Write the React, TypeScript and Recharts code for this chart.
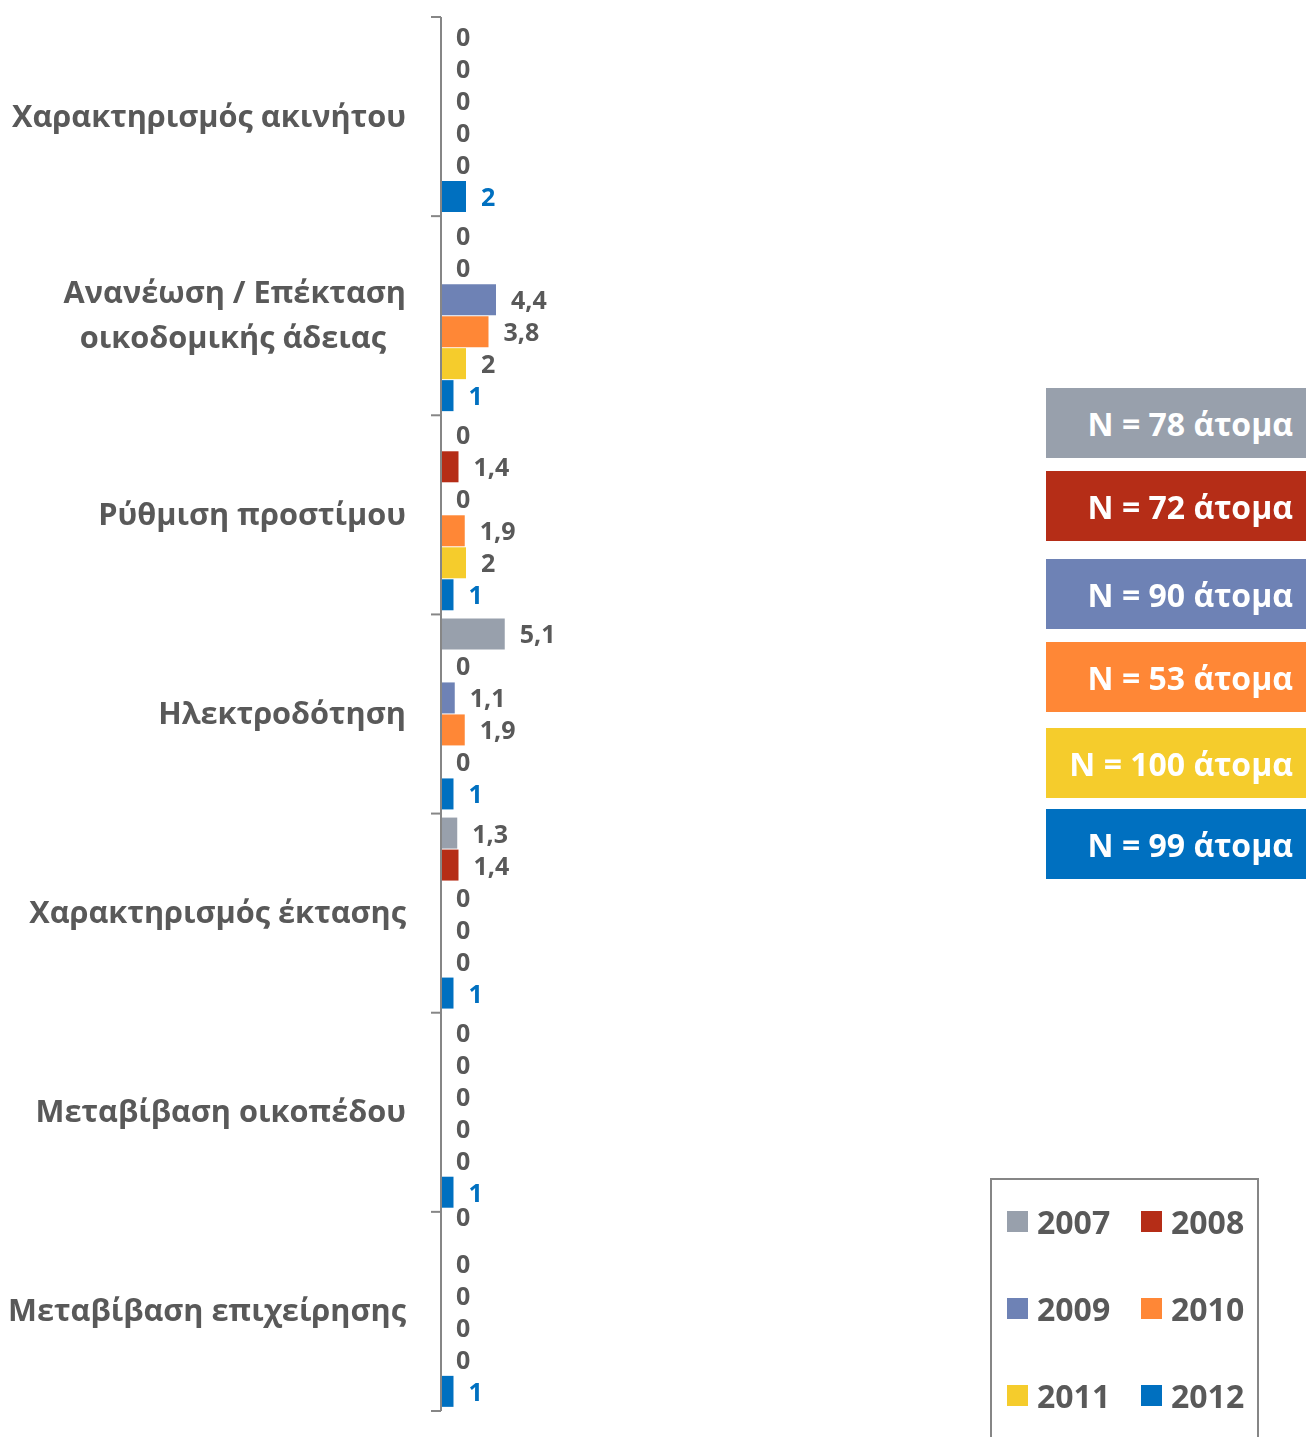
import React from "react";
import { BarChart, Bar, XAxis, YAxis, LabelList, Legend } from "recharts";

// Request categories (top to bottom); "\n" splits a label over two lines
const categories = [
  "Χαρακτηρισμός ακινήτου",
  "Ανανέωση / Επέκταση\nοικοδομικής άδειας",
  "Ρύθμιση προστίμου",
  "Ηλεκτροδότηση",
  "Χαρακτηρισμός έκτασης",
  "Μεταβίβαση οικοπέδου",
  "Μεταβίβαση επιχείρησης",
];

const years = ["2007", "2008", "2009", "2010", "2011", "2012"];

// Percentages per year, one value per category
const values2007 = [0, 0, 0, 5.1, 1.3, 0, 0];
const values2008 = [0, 0, 1.4, 0, 1.4, 0, 0];
const values2009 = [0, 4.4, 0, 1.1, 0, 0, 0];
const values2010 = [0, 3.8, 1.9, 1.9, 0, 0, 0];
const values2011 = [0, 2, 2, 0, 0, 0, 0];
const values2012 = [2, 1, 1, 1, 1, 1, 1];

// Sample sizes shown in the coloured boxes
const sampleSizes = [78, 72, 90, 53, 100, 99];

const seriesValues = [values2007, values2008, values2009, values2010, values2011, values2012];
const colors = ["#98A0AC", "#B52D17", "#6E82B5", "#FF8736", "#F5CC2C", "#0070C0"];
const labelColors = ["#595959", "#595959", "#595959", "#595959", "#595959", "#0070C0"];

const chartData = categories.map((name, i) => {
  const row: Record<string, string | number> = { name };
  years.forEach((y, s) => {
    row[y] = seriesValues[s][i];
  });
  return row;
});

const FONT = "'Open Sans', 'DejaVu Sans', sans-serif";
const TEXT_GRAY = "#595959";
const AXIS_GRAY = "#868686";

const W = 1306;
const H = 1437;

// Category label plus the small boundary ticks between categories
const CategoryTick = (props: any) => {
  const { x, y, payload, index } = props;
  const half = payload.offset || 99.6;
  const lines = String(payload.value).split("\n");
  const lineHeight = 45;
  return (
    <g>
      <line x1={x - 10} x2={x} y1={y - half} y2={y - half} stroke={AXIS_GRAY} strokeWidth={2} />
      {index === categories.length - 1 && (
        <line x1={x - 10} x2={x} y1={y + half} y2={y + half} stroke={AXIS_GRAY} strokeWidth={2} />
      )}
      {lines.map((line, i) => (
        <text
          key={i}
          x={x - 35 - (i > 0 ? 20 : 0)}
          y={y - 2 + (i - (lines.length - 1) / 2) * lineHeight}
          textAnchor="end"
          dominantBaseline="central"
          fill={TEXT_GRAY}
          fontSize={30.7}
          fontWeight={700}
          fontFamily={FONT}
        >
          {line}
        </text>
      ))}
    </g>
  );
};

// Value label to the right of each bar; zero values still get their "0"
const ValueLabel = (props: any) => {
  const { x, y, width, height, value, index, color, nudge } = props;
  const dy = nudge && nudge[index] ? nudge[index] : 0;
  return (
    <text
      x={x + width + 15}
      y={y + height / 2 - 0.5 + dy}
      dominantBaseline="central"
      fill={color}
      fontSize={25}
      fontWeight={700}
      fontFamily={FONT}
    >
      {String(value).replace(".", ",")}
    </text>
  );
};

// the 2007 label of the last row sits a little higher
const labelNudges: Record<string, Record<number, number>> = { "2007": { 6: -15 } };

const YearLegend = (props: any) => {
  const payload = props.payload || [];
  return (
    <div
      style={{
        width: 269,
        height: 290,
        border: `2px solid ${AXIS_GRAY}`,
        boxSizing: "border-box",
        display: "grid",
        gridTemplateColumns: "134px 134px",
        gridAutoRows: "87px",
        paddingLeft: 15,
      }}
    >
      {payload.map((entry: any) => (
        <div
          key={entry.value}
          style={{ display: "flex", alignItems: "center", height: 87, position: "relative", top: -2 }}
        >
          <span
            style={{ width: 21, height: 21, background: entry.color, display: "inline-block", marginRight: 9 }}
          />
          <span style={{ fontFamily: FONT, fontWeight: 700, fontSize: 32, color: TEXT_GRAY }}>{entry.value}</span>
        </div>
      ))}
    </div>
  );
};

export default function App() {
  return (
    <div style={{ position: "fixed", left: 0, top: 0, width: W, height: H, overflow: "hidden" }}>
      <BarChart
        width={W}
        height={H}
        data={chartData}
        layout="vertical"
        margin={{ top: 17, right: 365, bottom: 26, left: 0 }}
        barCategoryGap={4}
        barGap={1}
      >
        <XAxis type="number" domain={[0, 40]} hide />
        <YAxis
          type="category"
          dataKey="name"
          width={441}
          interval={0}
          tickLine={false}
          tickSize={0}
          tickMargin={0}
          axisLine={{ stroke: AXIS_GRAY, strokeWidth: 2 }}
          tick={<CategoryTick />}
        />
        <Legend
          layout="horizontal"
          verticalAlign="middle"
          align="center"
          content={<YearLegend />}
          wrapperStyle={{ position: "absolute", left: 990, top: 1178, width: 269, height: 290 }}
        />
        {years.map((y, s) => (
          <Bar
            key={y}
            dataKey={y}
            name={y}
            fill={colors[s]}
            minPointSize={0.01}
            isAnimationActive={false}
          >
            <LabelList
              dataKey={y}
              content={<ValueLabel color={labelColors[s]} nudge={labelNudges[y]} />}
            />
          </Bar>
        ))}
      </BarChart>
      {sampleSizes.map((n, s) => (
        <div
          key={n + "-" + s}
          style={{
            position: "absolute",
            left: 1046,
            top: [388, 471, 559, 642, 728, 809][s],
            width: 260,
            height: 70,
            background: colors[s],
            color: "#FFFFFF",
            fontFamily: FONT,
            fontWeight: 700,
            fontSize: 32,
            display: "flex",
            alignItems: "center",
            justifyContent: "flex-end",
            paddingRight: 13,
            boxSizing: "border-box",
          }}
        >
          {`N = ${n} άτομα`}
        </div>
      ))}
    </div>
  );
}
